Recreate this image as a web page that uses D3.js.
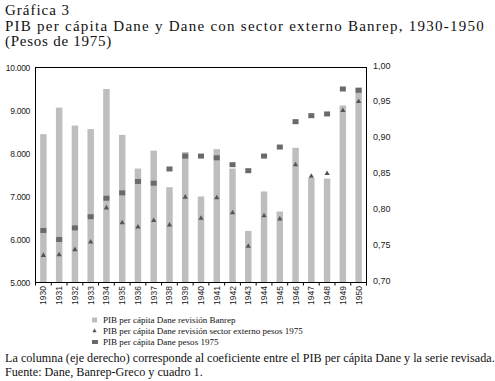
<!DOCTYPE html>
<html><head><meta charset="utf-8">
<script src="https://cdn.jsdelivr.net/npm/d3@7"></script>
<style>body{margin:0;background:#fff}svg{display:block}</style>
</head><body>
<script>
const years = ["1930","1931","1932","1933","1934","1935","1936","1937","1938","1939","1940","1941","1942","1943","1944","1945","1946","1947","1948","1949","1950"];
const coefBanrep = [0.907,0.944,0.919,0.914,0.970,0.906,0.859,0.884,0.833,0.882,0.820,0.886,0.859,0.772,0.827,0.799,0.888,0.846,0.845,0.947,0.972];
const pibExterno = [5630,5645,5765,5940,6735,6390,6290,6440,6335,6985,6495,6970,6620,5845,6550,6480,7740,7470,7535,9000,9210];
const pibDane = [6210,6000,6270,6530,6960,7085,7350,7310,7640,7940,7940,7900,7740,7600,7940,8150,8740,8880,8920,9500,9470];
const leftTicks = [5000,6000,7000,8000,9000,10000];
const rightTicks = [0.70,0.75,0.80,0.85,0.90,0.95,1.00];
const titleLines = ["Gráfica 3","PIB per cápita Dane y Dane con sector externo Banrep, 1930-1950","(Pesos de 1975)"];
const legendLabels = ["PIB per cápita Dane revisión Banrep","PIB per cápita Dane revisión sector externo pesos 1975","PIB per cápita Dane pesos 1975"];
const notes = ["La columna (eje derecho) corresponde al coeficiente entre el PIB per cápita Dane y la serie revisada.","Fuente: Dane, Banrep-Greco y cuadro 1."];

const W=495,H=381;
const svg=d3.select("body").append("svg").attr("width",W).attr("height",H);
const L=35.5,R=366.5,T=67.5,B=282.5;
const x=d3.scaleBand().domain(years).range([L,R]).paddingInner(0.59).paddingOuter(0.295);
const xb=d3.scaleBand().domain(years).range([L,R]);
const yL=d3.scaleLinear().domain([5000,10000]).range([B,T]);
const yR=d3.scaleLinear().domain([0.70,1.00]).range([B,T]);
const serif="'Liberation Serif','Times New Roman',serif";
const sans="'Liberation Sans',Arial,sans-serif";

function spread(sel,target){const w=sel.node().getComputedTextLength();const n=sel.text().length;sel.attr("letter-spacing",((target-w)/n).toFixed(3));}

// title
const tY=[15,31,46], tW=[65,480,107];
titleLines.forEach((t,i)=>{const s=svg.append("text").attr("x",5).attr("y",tY[i]).attr("font-family",serif).attr("font-size",15).attr("fill","#111").text(t);spread(s,tW[i]);});

// bars
svg.append("g").selectAll("rect").data(years).join("rect")
 .attr("x",d=>x(d)).attr("width",x.bandwidth())
 .attr("y",(d,i)=>yR(coefBanrep[i])).attr("height",(d,i)=>B-yR(coefBanrep[i]))
 .attr("fill","#bebec0");

// squares
svg.append("g").selectAll("rect").data(years).join("rect")
 .attr("x",d=>xb(d)+xb.bandwidth()/2-3).attr("y",(d,i)=>yL(pibDane[i])-2.5)
 .attr("width",6).attr("height",5).attr("fill","#6a6a6c");

// triangles
const tri=d3.symbol().type(d3.symbolTriangle).size(12);
svg.append("g").selectAll("path").data(years).join("path")
 .attr("d",tri).attr("transform",(d,i)=>`translate(${xb(d)+xb.bandwidth()/2},${yL(pibExterno[i])})`)
 .attr("fill","#555557");

// frame
svg.append("rect").attr("x",L).attr("y",T).attr("width",R-L).attr("height",B-T).attr("fill","none").attr("stroke","#000").attr("stroke-width",1);

// bottom ticks
svg.append("g").selectAll("line").data(d3.range(years.length+1)).join("line")
 .attr("x1",i=>L+i*xb.step()).attr("x2",i=>L+i*xb.step()).attr("y1",B).attr("y2",B+3).attr("stroke","#000");

// left axis labels
const fmtL=d=>d3.format(",")(d).replace(/,/g,".");
svg.append("g").selectAll("text").data(leftTicks).join("text")
 .attr("x",30).attr("y",d=>yL(d)+3).attr("text-anchor","end").attr("font-family",sans).attr("font-size",8.5).attr("letter-spacing",-0.3).attr("fill","#222").text(fmtL);
// right axis labels
svg.append("g").selectAll("text").data(rightTicks).join("text")
 .attr("x",373).attr("y",d=>yR(d)+1).attr("font-family",sans).attr("font-size",9).attr("fill","#222").text(d=>d3.format(".2f")(d).replace(".",","));
// x labels
svg.append("g").selectAll("text").data(years).join("text")
 .attr("transform",d=>`translate(${xb(d)+xb.bandwidth()/2+3},${286}) rotate(-90)`)
 .attr("text-anchor","end").attr("font-family",sans).attr("font-size",8.5).attr("fill","#222").text(d=>d);

// legend
const lgY=[320,331,342];
const lg=svg.append("g");
lg.append("rect").attr("x",92).attr("y",lgY[0]-2.5).attr("width",5).attr("height",5).attr("fill","#bebec0");
lg.append("path").attr("d",d3.symbol().type(d3.symbolTriangle).size(8)).attr("transform",`translate(94.5,${lgY[1]})`).attr("fill","#555557");
lg.append("rect").attr("x",92).attr("y",lgY[2]-2).attr("width",6).attr("height",4).attr("fill","#6a6a6c");
const lgT=legendLabels.map((t,i)=>lg.append("text").attr("x",103).attr("y",lgY[i]+2.5).attr("font-family",serif).attr("font-size",8).attr("fill","#111").text(t));
const lfs=(8*200/lgT[1].node().getComputedTextLength()).toFixed(2);
lgT.forEach(s=>s.attr("font-size",lfs));

// notes
const nY=[362,376];
const nT=notes.map((t,i)=>svg.append("text").attr("x",5).attr("y",nY[i]).attr("font-family",serif).attr("font-size",11).attr("fill","#111").text(t));
const nfs=(11*490/nT[0].node().getComputedTextLength()).toFixed(2);
nT.forEach(s=>s.attr("font-size",nfs));
</script>
</body></html>
